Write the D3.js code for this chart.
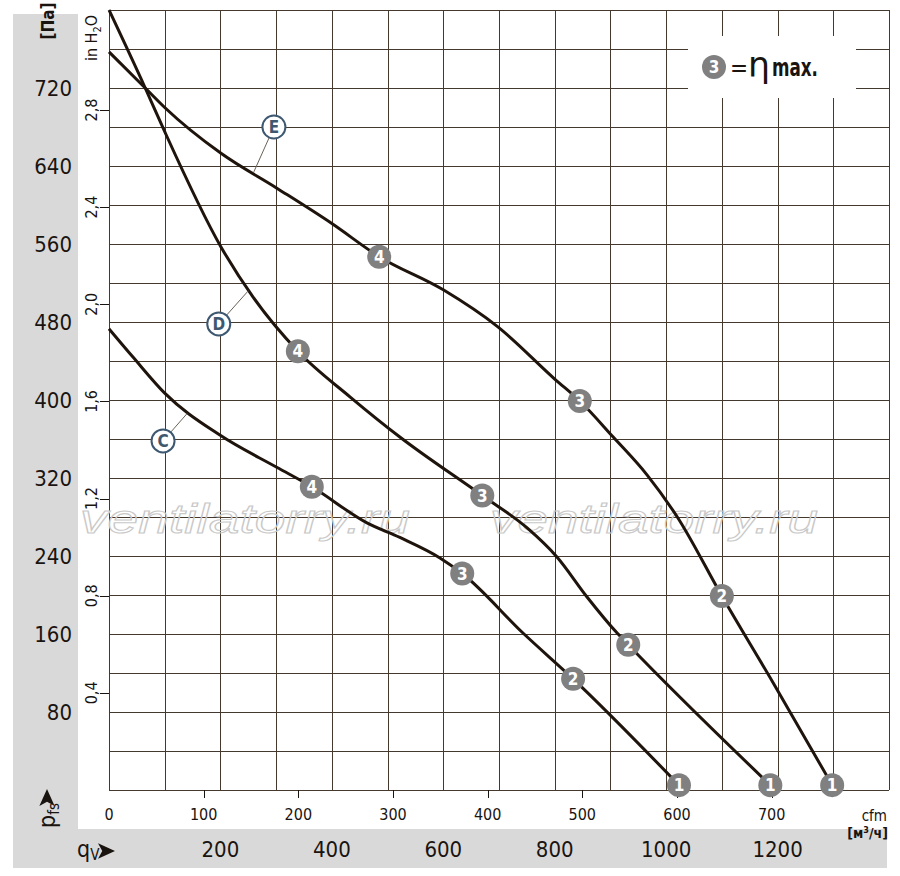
<!DOCTYPE html>
<html>
<head>
<meta charset="utf-8">
<script src="https://cdn.jsdelivr.net/npm/d3@7/dist/d3.min.js"></script>
<style>
  html, body { margin: 0; padding: 0; background: #fff; }
  svg { display: block; }
  text { font-family: "Liberation Sans Narrow", "DejaVu Sans Condensed", "Liberation Sans", sans-serif; fill: #1a1410; }
</style>
</head>
<body>
<div id="chart"></div>
<script>
// curves: [m3/h, Pa]
const curveC = [[0, 473], [43, 444], [100, 407], [199, 364], [301, 331], [364, 311],
  [463, 274], [522, 259], [594, 238], [634, 222], [743, 161], [833, 114], [1023, 5]];
const curveD = [[0, 800], [65, 720], [97, 679], [201, 557], [258, 506], [339, 450],
  [433, 403], [522, 362], [670, 302], [750, 269], [804, 239], [858, 198], [912, 161],
  [932, 149], [1187, 5]];
const curveE = [[0, 757], [65, 720], [100, 700], [201, 653], [302, 617], [400, 581], [485, 547],
  [600, 513], [698, 475], [801, 421], [845, 399], [905, 362], [966, 323], [1020, 280], [1100, 199],
  [1192, 110], [1298, 5]];

// operating points 4..1 on each curve
const pointsC = [[4, 364, 311], [3, 634, 222], [2, 833, 114], [1, 1023, 5]];
const pointsD = [[4, 339, 450], [3, 670, 302], [2, 932, 149], [1, 1187, 5]];
const pointsE = [[4, 485, 547], [3, 845, 399], [2, 1100, 199], [1, 1298, 5]];

// curve name tags: [name, tag x, tag y, anchor x, anchor y]
const curveTags = [['C', 97, 358, 140, 386], ['D', 197, 478, 250, 512], ['E', 296, 680, 260, 634]];

const paTicks = [80, 160, 240, 320, 400, 480, 560, 640, 720];
const inchTicks = [0.4, 0.8, 1.2, 1.6, 2.0, 2.4, 2.8];
const cfmTicks = [0, 100, 200, 300, 400, 500, 600, 700];
const m3hTicks = [200, 400, 600, 800, 1000, 1200];

const width = 900;
const height = 876;
const PA_PER_INCH = 249.089;
const M3H_PER_CFM = 1.69901;

const svg = d3.select('#chart').append('svg')
    .attr('width', width)
    .attr('height', height);

const x = d3.scaleLinear().domain([0, 1400]).range([109, 889]);
const y = d3.scaleLinear().domain([0, 800]).range([790, 10]);

// gray L-shaped panel
svg.append('rect').attr('x', 13).attr('y', 14).attr('width', 65).attr('height', 854).attr('fill', '#d9d9d9');
svg.append('rect').attr('x', 13).attr('y', 829).attr('width', 874).attr('height', 39).attr('fill', '#d9d9d9');

// grid
const grid = svg.append('g').attr('stroke', '#43392e').attr('stroke-width', 1).attr('shape-rendering', 'crispEdges');
grid.selectAll('.v').data(d3.range(0, 1401, 100)).join('line')
    .attr('x1', (d) => Math.round(x(d)) + 0.5).attr('x2', (d) => Math.round(x(d)) + 0.5)
    .attr('y1', y(0)).attr('y2', y(800));
grid.selectAll('.h').data(d3.range(0, 801, 40)).join('line')
    .attr('y1', (d) => Math.round(y(d)) + 0.5).attr('y2', (d) => Math.round(y(d)) + 0.5)
    .attr('x1', x(0)).attr('x2', x(1400));

// watermarks
const wm = svg.append('g');
[[80, 410], [490, 818]].forEach(([x0, x1]) => {
  wm.append('text')
      .attr('x', x0).attr('y', 533)
      .attr('textLength', x1 - x0)
      .attr('lengthAdjust', 'spacingAndGlyphs')
      .style('font-family', '"Liberation Sans", sans-serif')
      .style('font-style', 'italic')
      .style('font-size', '41px')
      .style('fill', 'none')
      .style('stroke', '#c9c9c9')
      .style('stroke-width', 1.1)
      .text('ventilatorry.ru');
});

// legend box
svg.append('rect').attr('x', 688).attr('y', 36).attr('width', 168).attr('height', 62).attr('fill', '#fff');
svg.append('circle').attr('cx', 714).attr('cy', 67).attr('r', 12).attr('fill', '#808080');
svg.append('text').attr('x', 714).attr('y', 73).attr('text-anchor', 'middle')
    .style('font-size', '17px').style('font-weight', 'bold').style('fill', '#fff').text('3');
svg.append('text').attr('x', 730).attr('y', 76).style('font-size', '24px').text('=');
svg.append('text').attr('x', 748).attr('y', 77)
    .attr('textLength', 22).attr('lengthAdjust', 'spacingAndGlyphs')
    .style('font-size', '36px')
    .style('font-family', '"DejaVu Sans Condensed", sans-serif').text('η');
svg.append('text').attr('x', 772).attr('y', 76)
    .attr('textLength', 46).attr('lengthAdjust', 'spacingAndGlyphs')
    .style('font-size', '24px').style('font-weight', 'bold').text('max.');

// left Pa axis labels
svg.append('g').selectAll('text').data(paTicks).join('text')
    .attr('x', 72).attr('y', (d) => y(d))
    .attr('text-anchor', 'end').attr('dominant-baseline', 'central')
    .style('font-size', '22px')
    .text((d) => d);

// inch H2O axis
const inch = svg.append('g');
inch.selectAll('line').data(inchTicks).join('line')
    .attr('x1', 100).attr('x2', 109)
    .attr('y1', (d) => Math.round(y(d * PA_PER_INCH)) + 0.5)
    .attr('y2', (d) => Math.round(y(d * PA_PER_INCH)) + 0.5)
    .attr('stroke', '#1a1410');
inch.selectAll('text').data(inchTicks).join('text')
    .attr('transform', (d) => `translate(97,${y(d * PA_PER_INCH)}) rotate(-90)`)
    .attr('text-anchor', 'middle')
    .style('font-size', '16px')
    .text((d) => d.toFixed(1).replace('.', ','));

const inLabel = svg.append('text')
    .attr('transform', 'translate(97,38) rotate(-90)')
    .attr('text-anchor', 'middle')
    .style('font-size', '16px');
inLabel.append('tspan').text('in H');
inLabel.append('tspan').attr('dy', 4).style('font-size', '11px').text('2');
inLabel.append('tspan').attr('dy', -4).text('O');

svg.append('text')
    .attr('transform', 'translate(54,21) rotate(-90)')
    .attr('text-anchor', 'middle')
    .style('font-size', '17px').style('font-weight', 'bold')
    .text('[Па]');

// cfm axis
const cfm = svg.append('g');
cfm.selectAll('line').data(cfmTicks.filter((d) => d > 0)).join('line')
    .attr('x1', (d) => Math.round(x(d * M3H_PER_CFM)) + 0.5)
    .attr('x2', (d) => Math.round(x(d * M3H_PER_CFM)) + 0.5)
    .attr('y1', 790).attr('y2', 798)
    .attr('stroke', '#1a1410');
cfm.selectAll('text').data(cfmTicks).join('text')
    .attr('x', (d) => x(d * M3H_PER_CFM)).attr('y', 820)
    .attr('text-anchor', 'middle')
    .style('font-size', '16px')
    .text((d) => d);
svg.append('text').attr('x', 887).attr('y', 821).attr('text-anchor', 'end')
    .style('font-size', '15px').text('cfm');
const m3Label = svg.append('text').attr('x', 888).attr('y', 838).attr('text-anchor', 'end')
    .style('font-size', '14px').style('font-weight', 'bold');
m3Label.append('tspan').text('[м');
m3Label.append('tspan').attr('dy', -5).style('font-size', '9px').text('3');
m3Label.append('tspan').attr('dy', 5).text('/ч]');

// m3/h axis labels
svg.append('g').selectAll('text').data(m3hTicks).join('text')
    .attr('x', (d) => x(d)).attr('y', 857)
    .attr('text-anchor', 'middle')
    .style('font-size', '22px')
    .text((d) => d);

// axis names
const arrow = 'M0,-9 L20,0 L0,9 L5,0 Z';
const pLabel = svg.append('text')
    .attr('transform', 'translate(55,828) rotate(-90)')
    .style('font-size', '23px');
pLabel.append('tspan').text('p');
pLabel.append('tspan').attr('dy', 4).style('font-size', '15px').text('fs');
svg.append('path').attr('d', arrow).attr('fill', '#1a1410')
    .attr('transform', 'translate(47,806) rotate(-90) scale(0.85)');

const qLabel = svg.append('text').attr('x', 77).attr('y', 857).style('font-size', '23px');
qLabel.append('tspan').text('q');
qLabel.append('tspan').attr('dy', 3).style('font-size', '15px').text('V');
svg.append('path').attr('d', arrow).attr('fill', '#1a1410')
    .attr('transform', 'translate(98,851) scale(0.85)');

// curves
const line = d3.line()
    .x((d) => x(d[0]))
    .y((d) => y(d[1]))
    .curve(d3.curveMonotoneX);

svg.append('g').selectAll('path').data([curveC, curveD, curveE]).join('path')
    .attr('d', line)
    .attr('fill', 'none')
    .attr('stroke', '#1e140c')
    .attr('stroke-width', 3);

// curve tags with leader lines
const tagColor = '#3d5870';
const tags = svg.append('g');
curveTags.forEach(([name, tx, ty, ax, ay]) => {
  const cx = x(tx);
  const cy = y(ty);
  const px = x(ax);
  const py = y(ay);
  const len = Math.hypot(px - cx, py - cy);
  tags.append('line')
      .attr('x1', cx + (px - cx) / len * 12).attr('y1', cy + (py - cy) / len * 12)
      .attr('x2', px).attr('y2', py)
      .attr('stroke', '#6a6258').attr('stroke-width', 1);
  tags.append('circle').attr('cx', cx).attr('cy', cy).attr('r', 11.5)
      .attr('fill', '#fff').attr('stroke', tagColor).attr('stroke-width', 2);
  tags.append('text').attr('x', cx).attr('y', cy + 6).attr('text-anchor', 'middle')
      .style('font-size', '17px').style('font-weight', 'bold').style('fill', tagColor)
      .text(name);
});

// operating points
const points = svg.append('g');
[pointsC, pointsD, pointsE].forEach((set) => {
  const g = points.append('g');
  g.selectAll('circle').data(set).join('circle')
      .attr('cx', (d) => x(d[1])).attr('cy', (d) => y(d[2]))
      .attr('r', 12).attr('fill', '#808080');
  g.selectAll('text').data(set).join('text')
      .attr('x', (d) => x(d[1])).attr('y', (d) => y(d[2]) + 6)
      .attr('text-anchor', 'middle')
      .style('font-size', '17px').style('font-weight', 'bold').style('fill', '#fff')
      .text((d) => d[0]);
});
</script>
</body>
</html>
